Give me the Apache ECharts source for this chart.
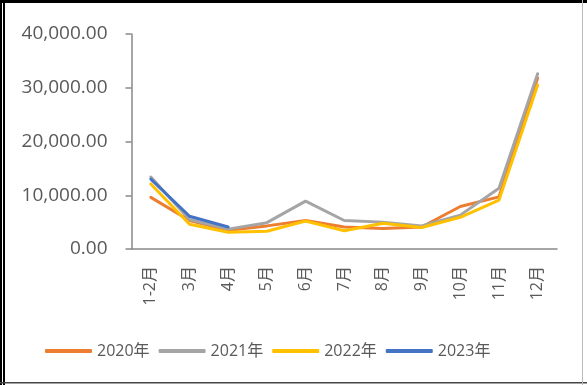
<!DOCTYPE html>
<html>
<head>
<meta charset="utf-8">
<script src="https://cdn.jsdelivr.net/npm/echarts@6/dist/echarts.min.js"></script>
<style>
  html, body { margin: 0; padding: 0; background: #fff; }
  #chart { width: 587px; height: 385px; }
</style>
</head>
<body>
<div id="chart"></div>
<script>
// 月份
var months = ['1-2月', '3月', '4月', '5月', '6月', '7月', '8月', '9月', '10月', '11月', '12月'];
var yTicks = [0, 10000, 20000, 30000, 40000];

var data2020 = [9600, 5300, 3500, 4300, 5300, 4100, 3800, 4100, 7900, 9700, 31800];
var data2021 = [13400, 5500, 3700, 4900, 8900, 5300, 5000, 4300, 6300, 11300, 32600];
var data2022 = [12100, 4600, 3100, 3300, 5200, 3400, 4800, 4000, 5900, 9100, 30500];
var data2023 = [13000, 6100, 4100];

var names = ['2020年', '2021年', '2022年', '2023年'];
var colors = ['#ED7D31', '#A5A5A5', '#FFC000', '#4472C4'];

var font = '"Open Sans", "Noto Sans CJK SC", sans-serif';

var chart = echarts.init(document.getElementById('chart'));

function makeLine(name, data, color) {
    return {
        name: name,
        type: 'line',
        data: data,
        symbol: 'none',
        smooth: false,
        lineStyle: {width: 3, color: color, cap: 'round', join: 'round'},
        itemStyle: {color: color}
    };
}

var option = {
    animation: false,
    grid: {left: 131.5, right: 30, top: 34, bottom: 136},
    legend: {
        left: 40,
        top: 338,
        itemWidth: 47,
        itemHeight: 4,
        itemGap: 9,
        icon: 'roundRect',
        textStyle: {fontFamily: font, fontSize: 16, color: '#595959'},
        data: names
    },
    xAxis: {
        type: 'category',
        data: months,
        boundaryGap: true,
        axisLine: {lineStyle: {color: '#898989', width: 1.5}},
        axisTick: {show: false},
        axisLabel: {
            rotate: 90,
            margin: 17,
            fontFamily: font,
            fontSize: 16,
            color: '#595959'
        }
    },
    yAxis: {
        type: 'value',
        min: yTicks[0],
        max: yTicks[yTicks.length - 1],
        interval: 10000,
        splitLine: {show: false},
        axisLine: {show: true, lineStyle: {color: '#898989', width: 1.5}},
        axisTick: {show: true, inside: false, length: 6, lineStyle: {color: '#898989', width: 1.5}},
        axisLabel: {
            margin: 24,
            fontFamily: font,
            fontSize: 19,
            color: '#595959',
            formatter: function (v) {
                return v.toLocaleString('en-US', {minimumFractionDigits: 2, maximumFractionDigits: 2});
            }
        }
    },
    graphic: [
        {type: 'rect', shape: {x: 0, y: 0, width: 587, height: 3}, style: {fill: '#000'}},
        {type: 'rect', shape: {x: 0, y: 0, width: 2, height: 385}, style: {fill: '#000'}},
        {type: 'rect', shape: {x: 3, y: 0, width: 2, height: 385}, style: {fill: '#000'}},
        {type: 'rect', shape: {x: 0, y: 382, width: 587, height: 1.5}, style: {fill: '#444'}},
        {type: 'rect', shape: {x: 582, y: 0, width: 1, height: 385}, style: {fill: '#bbb'}}
    ],
    series: [
        makeLine(names[0], data2020, colors[0]),
        makeLine(names[1], data2021, colors[1]),
        makeLine(names[2], data2022, colors[2]),
        makeLine(names[3], data2023, colors[3])
    ]
};
chart.setOption(option);
</script>
</body>
</html>
